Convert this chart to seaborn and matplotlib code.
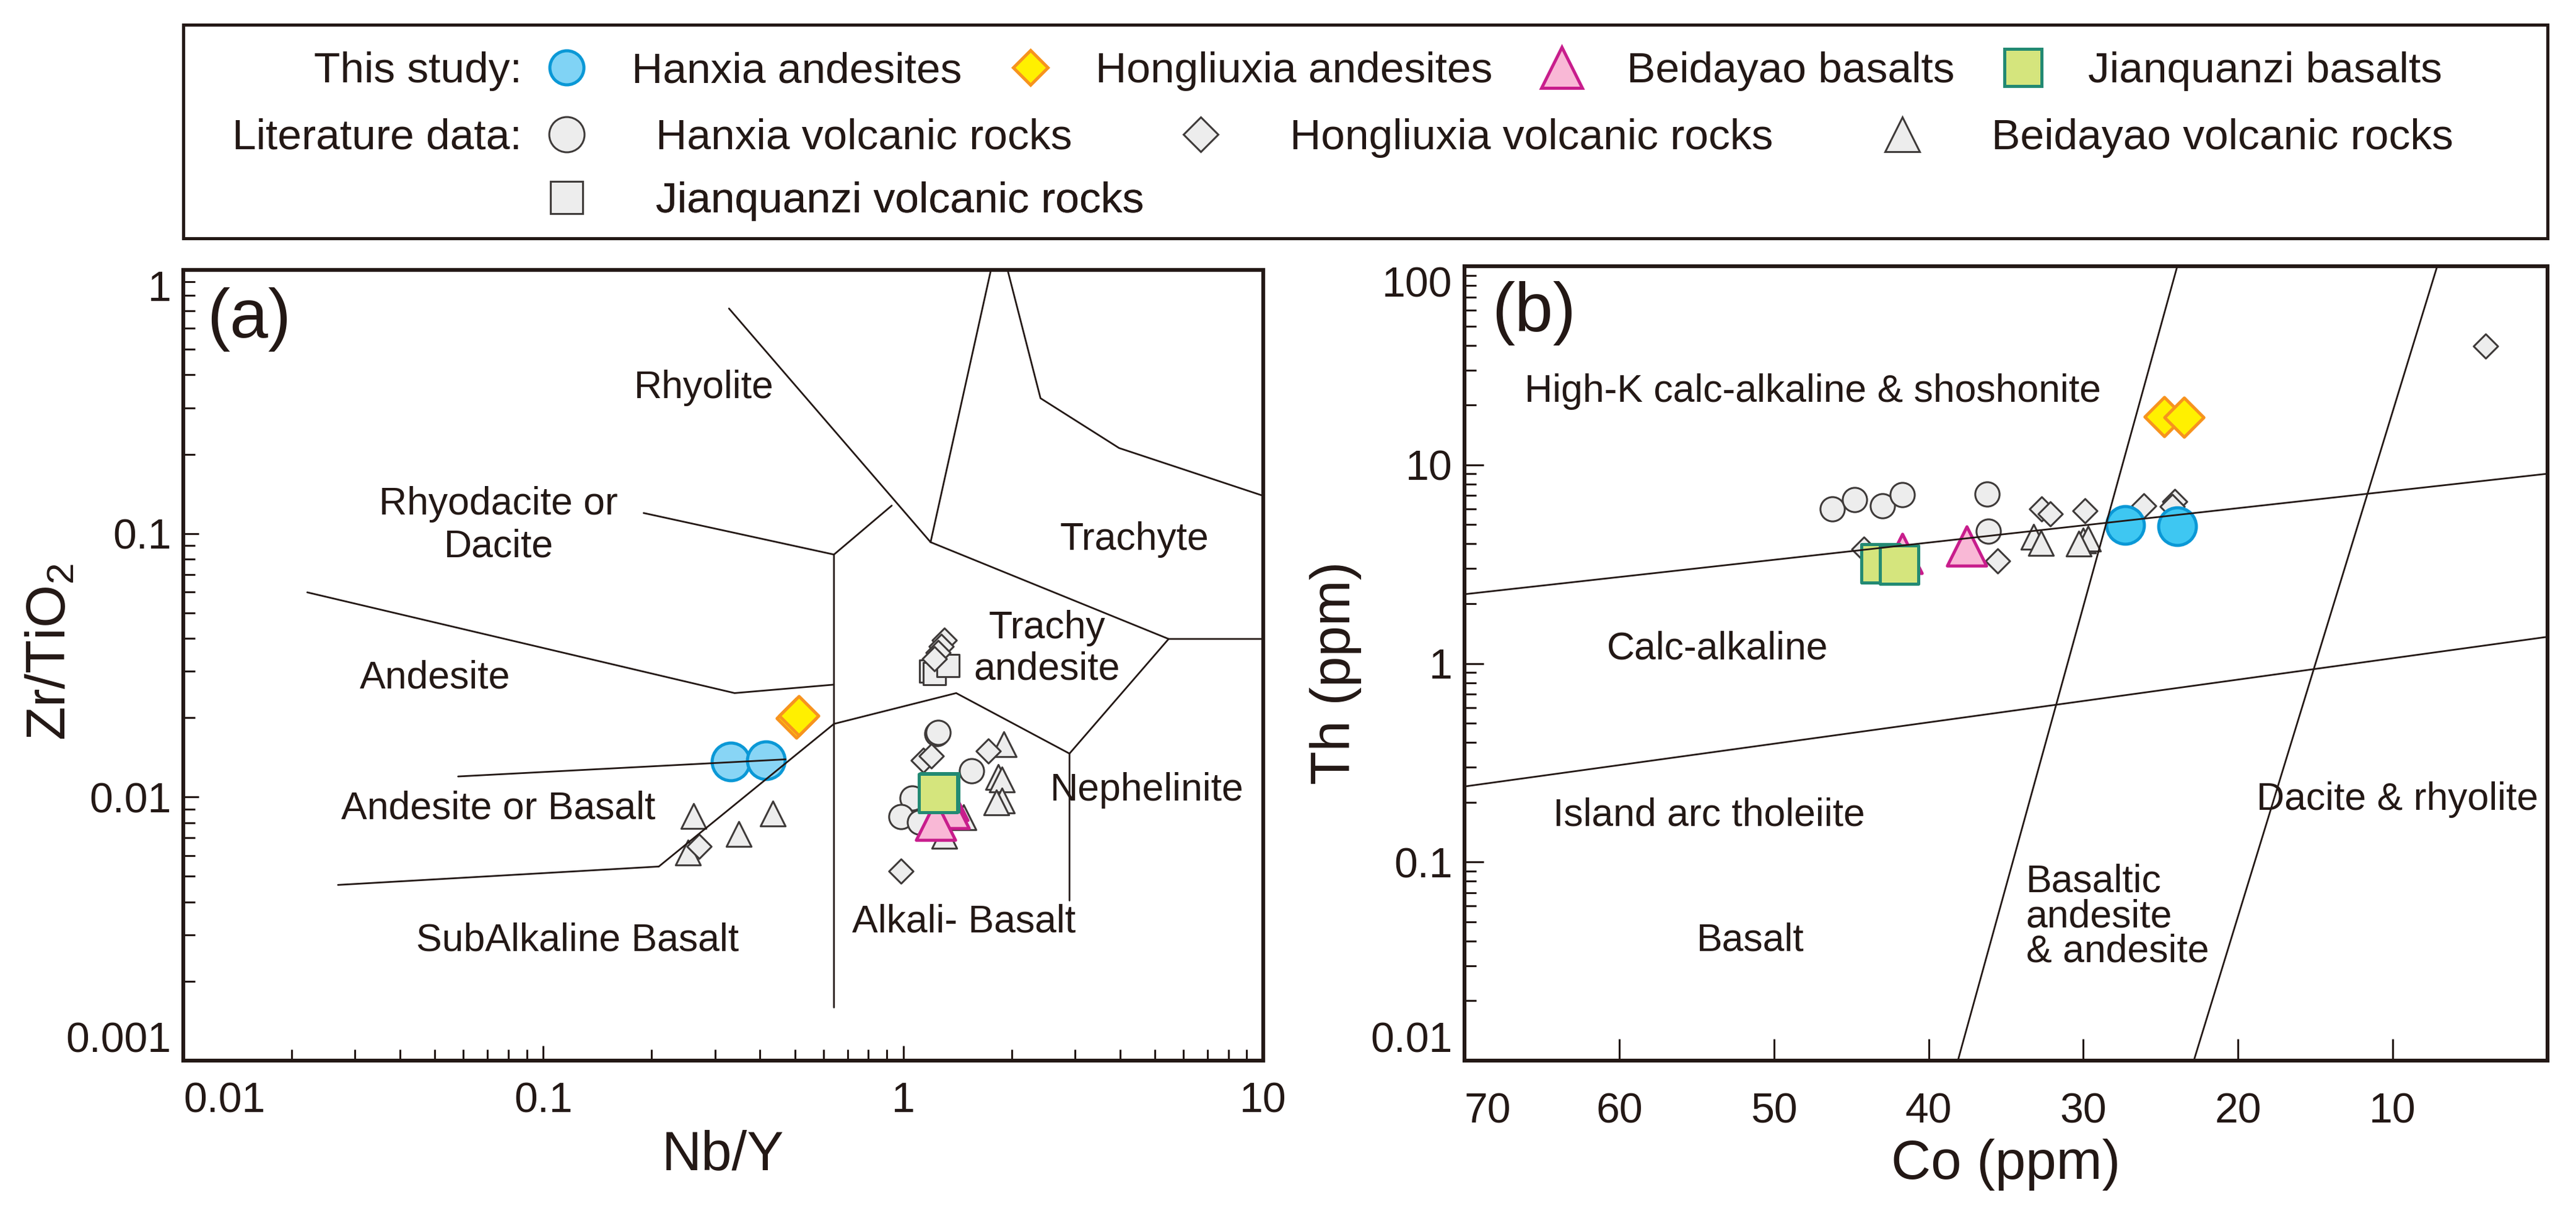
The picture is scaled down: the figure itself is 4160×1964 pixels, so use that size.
#!/usr/bin/env python3

##########################################################################
#
#  Zr/TiO2 - Nb/Y (a) and Th - Co (b) discrimination plots
#
##########################################################################

import numpy as np
import matplotlib
matplotlib.use('Agg')
import seaborn as sns
import matplotlib.pyplot as plt
from matplotlib.lines import Line2D
from matplotlib.ticker import LogLocator, NullFormatter, NullLocator

sns.set_style('ticks')
plt.rcParams['font.family'] = ['Liberation Sans', 'DejaVu Sans']
plt.rcParams['mathtext.fontset'] = 'custom'
plt.rcParams['mathtext.rm'] = 'Liberation Sans'
plt.rcParams['mathtext.it'] = 'Liberation Sans:italic'
plt.rcParams['mathtext.bf'] = 'Liberation Sans:bold'

INK = '#231815'

################################################
## (a) Nb/Y vs Zr/TiO2
hx_and_nby = [0.332, 0.416]
hx_and_zr  = [0.0136, 0.0138]
hl_and_nby = [0.505, 0.512]
hl_and_zr  = [0.0199, 0.0203]
bd_bas_nby = [1.33, 1.345, 1.231]
bd_bas_zr  = [0.0097, 0.00902, 0.00815]
jq_bas_nby = [1.26, 1.251]
jq_bas_zr  = [0.0104, 0.01036]

hx_lit_nby = [1.239, 1.25, 1.55, 1.058, 0.984, 1.108]
hx_lit_zr  = [0.01741, 0.01758, 0.0126, 0.00989, 0.00844, 0.00804]
hl_lit_nby = [1.303, 1.276, 1.252, 1.223, 1.138, 1.199, 1.722, 0.984, 0.271]
hl_lit_zr  = [0.0394, 0.0372, 0.0353, 0.0335, 0.01377, 0.01428, 0.01494, 0.00524, 0.00649]
bd_lit_nby = [0.2615, 0.3493, 0.434, 0.252, 1.901, 1.839, 1.877, 1.881, 1.816, 1.303, 1.47]
bd_lit_zr  = [0.00846, 0.00726, 0.00867, 0.00617, 0.01585, 0.01188, 0.01166,
              0.00972, 0.00954, 0.00713, 0.00836]
jq_lit_nby = [1.191, 1.223, 1.332]
jq_lit_zr  = [0.0301, 0.0294, 0.0315]

## (b) Co vs Th
hx_and_co = [27.28, 23.94]
hx_and_th = [4.96, 4.90]
hl_and_co = [24.79, 23.48]
hl_and_th = [17.5, 17.35]
bd_bas_co = [41.7, 37.56]
bd_bas_th = [3.58, 3.91]
jq_bas_co = [43.1, 41.9]
jq_bas_th = [3.19, 3.15]

hx_lit_co = [46.24, 44.77, 43.0, 41.7, 36.23, 36.16]
hx_lit_th = [6.01, 6.66, 6.20, 7.06, 7.11, 4.62]
hl_lit_co = [44.17, 35.56, 32.69, 32.15, 29.88, 26.08, 24.08, 24.25, 4.0]
hl_lit_th = [3.77, 3.28, 6.01, 5.66, 5.87, 6.23, 6.54, 6.15, 39.6]
bd_lit_co = [33.22, 32.75, 30.02, 29.68, 30.28]
bd_lit_th = [4.35, 4.03, 4.15, 4.25, 4.0]
jq_lit_co = []
jq_lit_th = []

## field boundaries (Winchester & Floyd; Hastie et al.)
bnd_a = [
  ([0.328, 1.191], [0.714, 0.0927]),
  ([1.191, 1.752], [0.0927, 1.0]),
  ([1.949, 2.406, 3.977, 10.0], [1.0, 0.326, 0.211, 0.139]),
  ([0.929, 0.642, 0.642], [0.1276, 0.0832, 0.00159]),
  ([0.190, 0.642], [0.1196, 0.0832]),
  ([0.0221, 0.340, 0.642], [0.0598, 0.0248, 0.0267]),
  ([1.191, 5.46, 10.0], [0.0927, 0.0398, 0.0398]),
  ([5.46, 2.896, 2.896], [0.0398, 0.01462, 0.00405]),
  ([0.0269, 0.2094, 0.642, 1.403, 2.896], [0.00464, 0.00545, 0.01895, 0.0248, 0.01462]),
  ([0.0580, 0.471], [0.01197, 0.0139]),
]
bnd_b = [
  ([70, 0], [2.23, 9.02]),
  ([70, 0], [0.240, 1.361]),
  ([38.11, 23.93], [0.01, 100]),
  ([22.86, 7.13], [0.01, 100]),
]

fields_a = [
  ('Rhyolite',              0.2797, 0.356,   'center', 1.2),
  ('Rhyodacite or\nDacite', 0.0751, 0.1073,  'center', 1.22),
  ('Trachyte',              4.38,   0.0948,  'center', 1.2),
  ('Trachy\nandesite',      2.51,   0.0365,  'center', 1.17),
  ('Andesite',              0.0501, 0.02825, 'center', 1.2),
  ('Andesite or Basalt',    0.0751, 0.00903, 'center', 1.2),
  ('Nephelinite',           4.76,   0.01061, 'center', 1.2),
  ('SubAlkaline Basalt',    0.1243, 0.002857,'center', 1.2),
  ('Alkali- Basalt',        1.472,  0.003357,'center', 1.2),
]
fields_b = [
  ('High-K calc-alkaline & shoshonite', 47.47, 23.4,   'center', 1.2),
  ('Calc-alkaline',                     53.63, 1.182,  'center', 1.2),
  ('Island arc tholeiite',              54.19, 0.1716, 'center', 1.2),
  ('Basalt',                            51.51, 0.0403, 'center', 1.2),
  ('Basaltic\nandesite\n& andesite',    33.71, 0.053,  'left',   0.95),
  ('Dacite & rhyolite',                 9.69,  0.2058, 'center', 1.2),
]

## marker styles
GRAY_FC, GRAY_EC = '#ededed', '#3e3a39'
sty = {
  'hx_and': dict(marker='o', s=480, color='#88d5f5', edgecolor='#0a98d6', linewidth=1.8),
  'hl_and': dict(marker='D', s=260, color='#fff000', edgecolor='#f7931e', linewidth=1.8),
  'bd_bas': dict(marker='^', s=520, color='#f9b8d6', edgecolor='#c81d8c', linewidth=1.8),
  'jq_bas': dict(marker='s', s=500, color='#d5e57d', edgecolor='#238a73', linewidth=1.8),
  'hx_lit': dict(marker='o', s=200, color=GRAY_FC, edgecolor=GRAY_EC, linewidth=1.1),
  'hl_lit': dict(marker='D', s=100, color=GRAY_FC, edgecolor=GRAY_EC, linewidth=1.1),
  'bd_lit': dict(marker='^', s=210, color=GRAY_FC, edgecolor=GRAY_EC, linewidth=1.1),
  'jq_lit': dict(marker='s', s=170, color=GRAY_FC, edgecolor=GRAY_EC, linewidth=1.1),
}
order = ['jq_lit', 'hx_lit', 'bd_lit', 'hl_lit', 'hx_and', 'hl_and', 'bd_bas', 'jq_bas']

data_a = {'hx_and': (hx_and_nby, hx_and_zr), 'hl_and': (hl_and_nby, hl_and_zr),
          'bd_bas': (bd_bas_nby, bd_bas_zr), 'jq_bas': (jq_bas_nby, jq_bas_zr),
          'hx_lit': (hx_lit_nby, hx_lit_zr), 'hl_lit': (hl_lit_nby, hl_lit_zr),
          'bd_lit': (bd_lit_nby, bd_lit_zr), 'jq_lit': (jq_lit_nby, jq_lit_zr)}
data_b = {'hx_and': (hx_and_co, hx_and_th), 'hl_and': (hl_and_co, hl_and_th),
          'bd_bas': (bd_bas_co, bd_bas_th), 'jq_bas': (jq_bas_co, jq_bas_th),
          'hx_lit': (hx_lit_co, hx_lit_th), 'hl_lit': (hl_lit_co, hl_lit_th),
          'bd_lit': (bd_lit_co, bd_lit_th), 'jq_lit': (jq_lit_co, jq_lit_th)}


######################################################################
def draw_panel(ax, data, bounds, fields, face_blue):
  for key in order:
    xs, ys = data[key]
    if not xs: continue
    kw = dict(sty[key])
    if key == 'hx_and': kw['color'] = face_blue
    sns.scatterplot(x=xs, y=ys, ax=ax, legend=False, zorder=2, **kw)
  for bx, by in bounds:
    ax.plot(bx, by, color=INK, lw=1.0, zorder=3, solid_joinstyle='miter')
  for txt, tx, ty, ha, lsp in fields:
    ax.text(tx, ty, txt, ha=ha, va='center', multialignment=ha, linespacing=lsp,
            fontsize=22.5, color=INK, zorder=4)
  for sp in ax.spines.values():
    sp.set_linewidth(2.2)
    sp.set_color(INK)
    sp.set_visible(True)


def style_ticks(ax, xpad, ypad, xlen, ylen, ylen_minor, xlen_minor):
  ax.tick_params(axis='x', which='major', direction='in', length=xlen, width=1.1,
                 pad=xpad, labelsize=24.5, colors=INK, top=False)
  ax.tick_params(axis='y', which='major', direction='in', length=ylen, width=1.1,
                 pad=ypad, labelsize=24.5, colors=INK, right=False)
  ax.tick_params(axis='x', which='minor', direction='in', length=xlen_minor, width=1.1,
                 colors=INK, top=False)
  ax.tick_params(axis='y', which='minor', direction='in', length=ylen_minor, width=1.1,
                 colors=INK, right=False)


def tuck_end_labels(ax):
  # keep the end labels inside the frame as in the original figure
  ylabs = ax.yaxis.get_majorticklabels()
  ylabs[0].set_va('bottom')
  ylabs[-1].set_va('top')
  ax.xaxis.get_majorticklabels()[0].set_ha('left')


######################################################################
def main():
  fig = plt.figure(figsize=(20.8, 9.82), dpi=200)
  W, H = 4160., 1964.

  ax_a = fig.add_axes([296/W, 1-1713/H, (2040-296)/W, (1713-436)/H])
  ax_b = fig.add_axes([2365/W, 1-1713/H, (4114-2365)/W, (1713-430)/H])
  ax_l = fig.add_axes([296/W, 1-385/H, (4114-296)/W, (385-40)/H])

  ## ---- panel (a)
  ax_a.set_xscale('log'); ax_a.set_yscale('log')
  draw_panel(ax_a, data_a, bnd_a, fields_a, '#88d5f5')
  ax_a.set_xlim(0.01, 10); ax_a.set_ylim(0.001, 1)
  ax_a.set_xticks([0.01, 0.1, 1, 10], labels=['0.01', '0.1', '1', '10'])
  ax_a.set_yticks([0.001, 0.01, 0.1, 1], labels=['0.001', '0.01', '0.1', '1'])
  for axis in (ax_a.xaxis, ax_a.yaxis):
    axis.set_minor_locator(LogLocator(base=10, subs=np.arange(2, 10)))
    axis.set_minor_formatter(NullFormatter())
  style_ticks(ax_a, 12, 7, 8.6, 9.0, 7.0, 6.5)
  tuck_end_labels(ax_a)
  ax_a.set_xlabel('Nb/Y', fontsize=32, color=INK)
  ax_a.set_ylabel(r'Zr/TiO$_\mathregular{2}$', fontsize=32, color=INK)
  ax_a.xaxis.set_label_coords(0.5, -0.087)
  ax_a.yaxis.set_label_coords(-0.098, 0.517)
  ax_a.text(0.022, 0.937, '(a)', transform=ax_a.transAxes, fontsize=40,
            ha='left', va='center', color=INK)

  ## ---- panel (b)
  ax_b.set_yscale('log')
  draw_panel(ax_b, data_b, bnd_b, fields_b, '#3ec7f2')
  ax_b.set_xlim(70, 0); ax_b.set_ylim(0.01, 100)
  ax_b.set_xticks([70, 60, 50, 40, 30, 20, 10], labels=['70', '60', '50', '40', '30', '20', '10'])
  ax_b.set_yticks([0.01, 0.1, 1, 10, 100], labels=['0.01', '0.1', '1', '10', '100'])
  ax_b.xaxis.set_minor_locator(NullLocator())
  ax_b.yaxis.set_minor_locator(LogLocator(base=10, subs=np.arange(2, 10)))
  ax_b.yaxis.set_minor_formatter(NullFormatter())
  style_ticks(ax_b, 18, 7, 12.6, 11.0, 7.0, 0)
  tuck_end_labels(ax_b)
  ax_b.set_xlabel('Co (ppm)', fontsize=32, color=INK)
  ax_b.set_ylabel('Th (ppm)', fontsize=32, color=INK)
  ax_b.xaxis.set_label_coords(0.5, -0.098)
  ax_b.yaxis.set_label_coords(-0.095, 0.488)
  ax_b.text(0.025, 0.941, '(b)', transform=ax_b.transAxes, fontsize=40,
            ha='left', va='center', color=INK)

  ## ---- legend box
  ax_l.set_xlim(0, 1); ax_l.set_ylim(0, 1)
  ax_l.set_xticks([]); ax_l.set_yticks([])
  for sp in ax_l.spines.values():
    sp.set_linewidth(1.8); sp.set_color(INK); sp.set_visible(True)

  def hnd(key, ms):
    k = sty[key]
    fc = '#80d3f5' if key == 'hx_and' else k['color']
    return Line2D([], [], ls='none', marker=k['marker'], markersize=ms,
                  markerfacecolor=fc, markeredgecolor=k['edgecolor'],
                  markeredgewidth=k['linewidth'])

  rows = [
    ([hnd('hx_and', 19.8), hnd('hl_and', 14.5), hnd('bd_bas', 23.8), hnd('jq_bas', 21.6)],
     ['Hanxia andesites', 'Hongliuxia andesites', 'Beidayao basalts', 'Jianquanzi basalts'],
     0.7826, 1.01, 1.1),
    ([hnd('hx_lit', 20.5), hnd('hl_lit', 14.5), hnd('bd_lit', 20.5)],
     ['Hanxia volcanic rocks', 'Hongliuxia volcanic rocks', 'Beidayao volcanic rocks'],
     0.4696, 1.57, 2.5),
    ([hnd('jq_lit', 18.7)], ['Jianquanzi volcanic rocks'], 0.174, 1.57, 2.5),
  ]
  x0 = (915 - 34.7 - 296) / 3818.
  for hh, ll, yy, hpad, cs in rows:
    leg = ax_l.legend(hh, ll, loc='center left', bbox_to_anchor=(x0, yy),
                      ncol=len(hh), frameon=False, fontsize=25, handlelength=1.0,
                      handletextpad=hpad, columnspacing=cs, borderpad=0,
                      borderaxespad=0, labelcolor=INK)
    ax_l.add_artist(leg)
  xr = (843 - 296) / 3818.
  ax_l.text(xr, 0.7826, 'This study:', ha='right', va='center', fontsize=25, color=INK)
  ax_l.text(xr, 0.4696, 'Literature data:', ha='right', va='center', fontsize=25, color=INK)

  fig.savefig('out.png', dpi=200, facecolor='white')


######################################################################
if __name__ == '__main__':
  main()
